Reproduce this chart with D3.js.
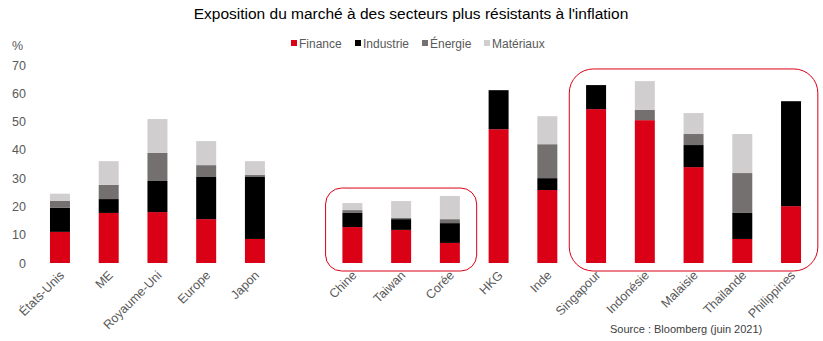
<!DOCTYPE html>
<html><head><meta charset="utf-8">
<script src="https://cdn.jsdelivr.net/npm/d3@7/dist/d3.min.js"></script>
<style>body{margin:0;background:#fff}svg{display:block;font-family:"Liberation Sans",Arial,sans-serif}</style>
</head><body><svg id="c" width="823" height="341"></svg>
<script>
const categories = ["États-Unis","ME","Royaume-Uni","Europe","Japon"," ","Chine","Taiwan","Corée","HKG","Inde","Singapour","Indonésie","Malaisie","Thailande","Philippines"];
const finance   = [11, 17.7, 18, 15.5, 8.5, 0, 12.7, 11.7, 7.1, 47.3, 25.8, 54.4, 50.5, 33.9, 8.5, 20.1];
const industrie = [8.5, 4.9, 11, 14.9, 21.9, 0, 5, 3.8, 7, 13.8, 4.2, 8.5, 0, 7.8, 9.2, 37.1];
const energie   = [2.5, 5, 9.9, 4.2, 0.7, 0, 1, 0.4, 1.4, 0, 12, 0, 3.6, 3.9, 14.1, 0];
const materiaux = [2.5, 8.4, 12, 8.5, 4.9, 0, 2.5, 6, 8.2, 0, 9.9, 0, 10.2, 7.4, 13.8, 0];
const seriesNames = ["Finance","Industrie","Énergie","Matériaux"];
const colors = ["#DA0016","#000000","#757070","#D0CECE"];
const yTicks = [0,10,20,30,40,50,60,70];
const groups = [["Chine","Corée",26.5],["Singapour","Philippines",68.6]];

const svg = d3.select("#c");
const x = d3.scaleBand().domain(categories).range([35.6, 815.4]).paddingInner(0.59).paddingOuter(0.295);
const y = d3.scaleLinear().domain([0,70]).range([263, 65]);

const data = categories.map((c,i)=>({cat:c, Finance:finance[i], Industrie:industrie[i], "Énergie":energie[i], "Matériaux":materiaux[i]}));
const stack = d3.stack().keys(seriesNames)(data);

svg.append("text").attr("x",411).attr("y",19).attr("text-anchor","middle").attr("font-size",15.5).attr("fill","#000")
  .text("Exposition du marché à des secteurs plus résistants à l'inflation");

// y axis labels
svg.append("g").selectAll("text").data(yTicks).join("text")
  .attr("x",26).attr("y",d=>y(d)+4.5).attr("text-anchor","end").attr("font-size",12.5).attr("fill","#595959").text(d=>d);
svg.append("text").attr("x",12).attr("y",50).attr("font-size",12.5).attr("fill","#595959").text("%");

// bars
svg.append("g").selectAll("g").data(stack).join("g").attr("fill",(d,i)=>colors[i])
  .selectAll("rect").data(d=>d).join("rect")
  .attr("x",d=>x(d.data.cat)).attr("width",x.bandwidth())
  .attr("y",d=>y(d[1])).attr("height",d=>y(d[0])-y(d[1]));

// group outlines
groups.forEach(g=>{
  const step = x.step();
  const x0 = x(g[0]) + x.bandwidth()/2 - step*0.55;
  const x1 = x(g[1]) + x.bandwidth()/2 + step*0.55;
  const r = g[0]==="Chine" ? 16 : 24;
  svg.append("rect").attr("x",x0).attr("y",y(g[2])).attr("width",x1-x0).attr("height",y(0)+8-y(g[2]))
    .attr("rx",r).attr("ry",r).attr("fill","none").attr("stroke","#DA0016").attr("stroke-width",1);
});

// x labels
svg.append("g").selectAll("text").data(categories.filter(c=>c.trim()!=="")).join("text")
  .attr("transform",d=>`translate(${x(d)+x.bandwidth()/2+5},${276}) rotate(-45)`)
  .attr("text-anchor","end").attr("font-size",12.5).attr("fill","#595959").text(d=>d);

// legend
const lg = svg.append("g");
const lx = [291,355,422,484];
seriesNames.forEach((n,i)=>{
  lg.append("rect").attr("x",lx[i]).attr("y",40).attr("width",6).attr("height",6).attr("fill",colors[i]);
  lg.append("text").attr("x",lx[i]+8).attr("y",47.5).attr("font-size",12).attr("fill","#595959").text(n);
});

svg.append("text").attr("x",610).attr("y",333).attr("font-size",11).attr("fill","#404040").text("Source : Bloomberg (juin 2021)");
</script></body></html>
